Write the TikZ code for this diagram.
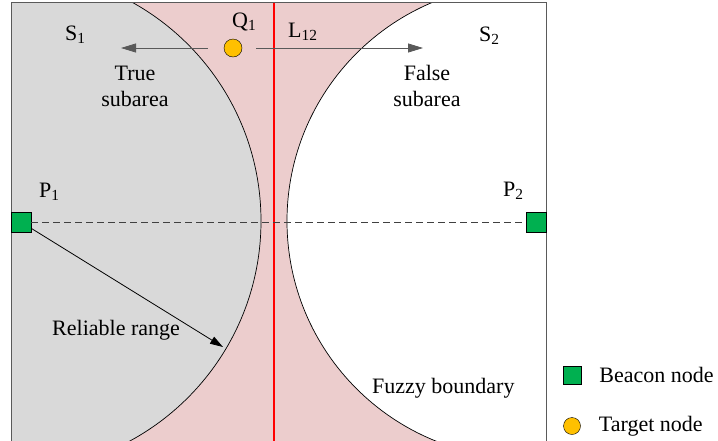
\documentclass[tikz,border=0pt]{standalone}
\usepackage{fontspec}
\setmainfont{Liberation Serif}
\newfontfamily\labelfont{Liberation Serif}
\usepackage{tikz}
\usetikzlibrary{positioning}
\usetikzlibrary{arrows.meta}
\usepackage{xcolor}
\definecolor{pinkzone}{RGB}{236,205,205}
\definecolor{grayzone}{RGB}{217,217,217}
\definecolor{beacongreen}{RGB}{0,176,80}
\definecolor{targetorange}{RGB}{255,192,0}
\definecolor{framegray}{RGB}{90,90,90}

\begin{document}
\begin{tikzpicture}[
x = 1pt, y = -1pt,
every node/.style = {font = \labelfont\fontsize{22}{26}\selectfont, inner sep = 1pt},
  beacon/.style = {draw, fill = beacongreen, minimum size = 20pt, inner sep = 0pt},
  target/.style = {draw, circle, fill = targetorange, minimum size = 18pt, inner sep = 0pt},
  lbl/.style = {anchor = base west},
  dir/.style = {draw = black!65, line width = 0.8pt, -{Triangle[length=15pt,width=9pt]}}
]
\useasboundingbox (0,0) rectangle (718,440);
\clip (0,0) rectangle (718,440);

% regions: fuzzy band, reliable range of P1, range of P2
\fill[pinkzone] (11,2) rectangle (546,450);
\begin{scope}
  \clip (11,2) rectangle (546,450);
  \filldraw[fill = grayzone, draw = black, line width = 0.7pt] (11,221) circle [radius = 250pt];
  \filldraw[fill = white, draw = black, line width = 0.7pt] (524,221) circle [radius = 237pt];
\end{scope}
\draw[red, line width = 2pt] (274,2) -- (274,450);
\draw[framegray, line width = 1pt] (11,450) -- (11,2) -- (546,2) -- (546,450);

% nodes
\node[beacon] (P1) at (21,222) {};
\node[beacon] (P2) at (536,222) {};
\node[target] (Q1) at (233,48) {};
\coordinate (trueEnd) at (121,48);
\coordinate (falseEnd) at (423,48);
\coordinate (rangeEnd) at (223,347);

\draw[black!75, line width = 0.8pt, dash pattern = on 7pt off 4pt] (P1) -- (P2);
\draw[dir, shorten <= 16pt] (Q1) -- (trueEnd);
\draw[dir, shorten <= 14pt] (Q1) -- (falseEnd);
\draw[line width = 0.8pt, -{Triangle[length=13pt,width=8pt]}] (P1) -- (rangeEnd);

% labels
\node[lbl] (s1) at (64,40) {S\textsubscript{1}};
\node[lbl] (q1) at (231,27) {Q\textsubscript{1}};
\node[lbl] (l12) at (287,37) {L\textsubscript{12}};
\node[lbl] (s2) at (478,41) {S\textsubscript{2}};
\node[align = center] (truearea) at (135,86) {True\\subarea};
\node[align = center] (falsearea) at (427,86) {False\\subarea};
\node[lbl] (p1) at (38,197) {P\textsubscript{1}};
\node[lbl] (p2) at (502,196) {P\textsubscript{2}};
\node[lbl] (range) at (51,335) {Reliable range};
\node[lbl] (fuzzy) at (371,393) {Fuzzy boundary};

% legend
\node[beacon, minimum size = 18pt] (bkey) at (572,375) {};
\node[target, minimum size = 17pt] (tkey) at (572,426) {};
\node[right = 17pt of bkey] (btext) {Beacon node};
\node[right = 17pt of tkey] (ttext) {Target node};
\end{tikzpicture}
\end{document}
